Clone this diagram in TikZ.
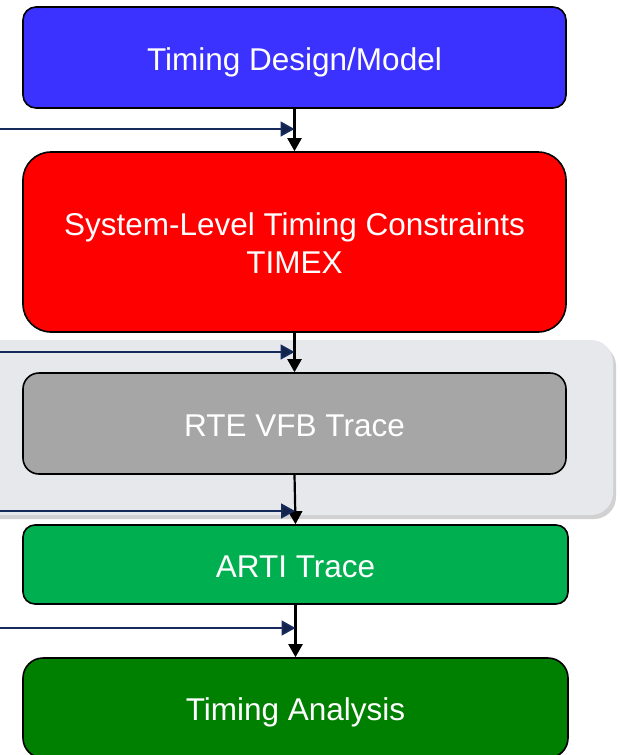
\documentclass[tikz,border=0pt]{standalone}
\usepackage{fontspec}
\setmainfont{Liberation Sans}
\usetikzlibrary{arrows.meta,shadows}
\definecolor{designblue}{RGB}{60,50,255}
\definecolor{constraintred}{RGB}{255,0,0}
\definecolor{tracegray}{RGB}{166,166,166}
\definecolor{artigreen}{RGB}{0,176,80}
\definecolor{analysisgreen}{RGB}{0,128,0}
\definecolor{panelgray}{RGB}{231,232,236}
\definecolor{feednavy}{RGB}{22,42,92}
\tikzset{
  stagebox/.style={draw=black, line width=1.6pt, text=white, align=center,
    minimum width=543pt, inner sep=0pt, text height=28pt, text depth=2.4pt,
    font=\fontsize{31.5}{38.3}\selectfont},
  flow/.style={draw=black, line width=2.2pt,
    -{Triangle[length=13pt,width=14pt]}},
  feed/.style={draw=feednavy, line width=1.8pt,
    -{Triangle[length=14pt,width=15pt,fill=feednavy!80!black]}},
}
\begin{document}
\begin{tikzpicture}[x=1pt,y=-1pt]
\useasboundingbox (0,0) rectangle (619,755);
% shaded panel behind the VFB trace stage
\fill[panelgray, rounded corners=22pt,
  drop shadow={shadow xshift=3pt, shadow yshift=-4pt, opacity=0.3, fill=black!60}]
  (-40,340) rectangle (613,515);
% processing stages
\node[stagebox, fill=designblue, rounded corners=13pt, minimum height=101pt]
  (design) at (294.5,57.5) {Timing Design/Model};
\node[stagebox, fill=constraintred, rounded corners=28pt, minimum height=180pt,
  text height=66.3pt, text depth=2.4pt]
  (timex) at (294.5,242) {System-Level Timing Constraints\\TIMEX};
\node[stagebox, fill=tracegray, rounded corners=16pt, minimum height=101pt]
  (vfb) at (294.5,423.5) {RTE VFB Trace};
\node[stagebox, fill=artigreen, rounded corners=12pt, minimum height=79pt, minimum width=545pt]
  (arti) at (295.5,564.5) {ARTI Trace};
\node[stagebox, fill=analysisgreen, rounded corners=20pt, minimum height=100pt, minimum width=545pt]
  (analysis) at (295.5,708) {Timing Analysis};
% vertical flow between stages
\draw[flow] (design.south) -- (timex.north);
\draw[flow] (timex.south) -- (vfb.north);
\draw[flow] (vfb.south) -- (arti.north);
\draw[flow] (arti.south) -- (analysis.north);
% incoming feeds from the left
\coordinate (in1) at (0,129);
\coordinate (in2) at (0,352);
\coordinate (in3) at (0,511);
\coordinate (in4) at (0,628);
\coordinate (j1) at (design.south |- in1);
\coordinate (j2) at (timex.south |- in2);
\coordinate (j3) at (295,511);
\coordinate (j4) at (arti.south |- in4);
\draw[feed] (in1) -- (j1);
\draw[feed] (in2) -- (j2);
\draw[feed] (in3) -- (j3);
\draw[feed] (in4) -- (j4);
\end{tikzpicture}
\end{document}
